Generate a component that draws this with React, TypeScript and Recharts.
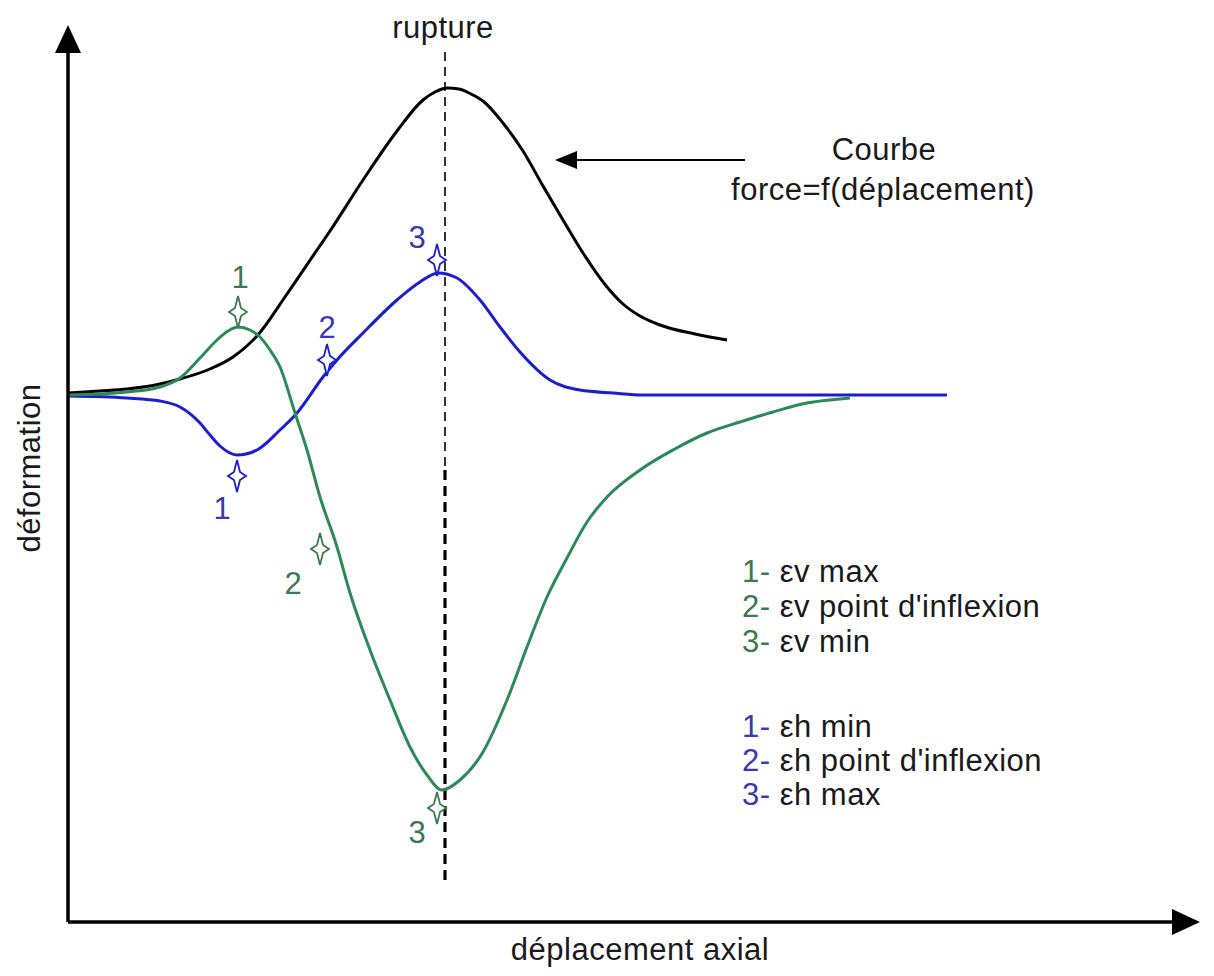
import React from 'react';
import { LineChart, Line, XAxis, YAxis, ReferenceLine, ReferenceDot } from 'recharts';

// x: axial displacement (arbitrary units), y: deformation / force (arbitrary units, 0 = initial level)
const forceCurve = [
  { x: 0, y: 2 }, { x: 32, y: 4 }, { x: 59, y: 6 }, { x: 92, y: 11 }, { x: 112, y: 16 },
  { x: 142, y: 26 }, { x: 165, y: 38 }, { x: 189, y: 59 }, { x: 219, y: 101 }, { x: 249, y: 145 },
  { x: 262, y: 164 }, { x: 295, y: 215 }, { x: 329, y: 264 }, { x: 355, y: 295 }, { x: 367, y: 303 },
  { x: 379, y: 307 }, { x: 391, y: 306 }, { x: 403, y: 301 }, { x: 415, y: 294 }, { x: 435, y: 272 },
  { x: 455, y: 244 }, { x: 475, y: 209 }, { x: 495, y: 175 }, { x: 515, y: 142 }, { x: 539, y: 108 },
  { x: 555, y: 91 }, { x: 572, y: 79 }, { x: 592, y: 70 }, { x: 627, y: 61 }, { x: 659, y: 55 },
];

const evCurve = [
  { x: 0, y: 0 }, { x: 32, y: 1 }, { x: 59, y: 3 }, { x: 92, y: 8 }, { x: 112, y: 17 },
  { x: 132, y: 37 }, { x: 149, y: 55 }, { x: 160, y: 64 }, { x: 170, y: 68 }, { x: 182, y: 65 },
  { x: 192, y: 58 }, { x: 202, y: 45 }, { x: 212, y: 28 }, { x: 227, y: -18 }, { x: 239, y: -55 },
  { x: 252, y: -102 }, { x: 269, y: -152 }, { x: 282, y: -198 }, { x: 302, y: -255 }, { x: 322, y: -305 },
  { x: 342, y: -352 }, { x: 359, y: -380 }, { x: 374, y: -395 }, { x: 392, y: -385 }, { x: 415, y: -357 },
  { x: 439, y: -305 }, { x: 459, y: -252 }, { x: 479, y: -202 }, { x: 499, y: -163 }, { x: 519, y: -127 },
  { x: 539, y: -102 }, { x: 572, y: -75 }, { x: 605, y: -55 }, { x: 639, y: -38 }, { x: 672, y: -27 },
  { x: 705, y: -17 }, { x: 739, y: -8 }, { x: 772, y: -4 }, { x: 782, y: -3 },
];

const ehCurve = [
  { x: 0, y: -1 }, { x: 59, y: -3 }, { x: 92, y: -6 }, { x: 112, y: -12 }, { x: 132, y: -28 },
  { x: 142, y: -40 }, { x: 152, y: -51 }, { x: 169, y: -60 }, { x: 189, y: -55 }, { x: 212, y: -35 },
  { x: 229, y: -18 }, { x: 255, y: 18 }, { x: 269, y: 35 }, { x: 295, y: 62 }, { x: 329, y: 95 },
  { x: 352, y: 113 }, { x: 370, y: 122 }, { x: 389, y: 117 }, { x: 412, y: 95 }, { x: 432, y: 68 },
  { x: 452, y: 43 }, { x: 482, y: 15 }, { x: 512, y: 5 }, { x: 545, y: 2 }, { x: 575, y: 0 },
  { x: 662, y: 0 }, { x: 755, y: 0 }, { x: 879, y: 0 },
];

const evMarkers = [
  { x: 170, y: 83, label: '1', lx: 172, ly: 118 },
  { x: 252, y: -154, label: '2', lx: 225, ly: -188 },
  { x: 369, y: -413, label: '3', lx: 349, ly: -437 },
];
const ehMarkers = [
  { x: 169, y: -81, label: '1', lx: 154, ly: -113 },
  { x: 259, y: 35, label: '2', lx: 259, ly: 68 },
  { x: 369, y: 135, label: '3', lx: 349, ly: 158 },
];

const legendEv = ['1- ', '2- ', '3- '];
const legendEvText = ['εv max', "εv point d'inflexion", 'εv min'];
const legendEh = ['1- ', '2- ', '3- '];
const legendEhText = ['εh min', "εh point d'inflexion", 'εh max'];
const legendEvY = [-187, -222, -257];
const legendEhY = [-342, -376, -410];
const legendX = 674;

const X_DOMAIN = [0, 1132];
const Y_DOMAIN = [-527, 395];
const RUPTURE_X = 377;

const GREEN = '#2b8a57';
const GREEN_TXT = '#3b7a4c';
const BLUE = '#1c1cd0';
const BLUE_TXT = '#3838b8';
const FONT = "'Liberation Sans', Arial, sans-serif";
const FS = 31;

const star = (color: string) => (p: any) => {
  const { cx, cy } = p;
  const d = `M${cx},${cy - 16} L${cx + 3},${cy - 4} L${cx + 9},${cy} L${cx + 3},${cy + 4} L${cx},${cy + 16} L${cx - 3},${cy + 4} L${cx - 9},${cy} L${cx - 3},${cy - 4} Z`;
  return <path d={d} fill="#fff" stroke={color} strokeWidth={1.8} />;
};

const textShape = (text: string, color: string, anchor: string = 'middle', rotate = false) => (p: any) => {
  const { cx, cy } = p;
  return (
    <text
      x={cx}
      y={cy}
      fill={color}
      fontFamily={FONT}
      fontSize={FS}
      letterSpacing={0.5}
      textAnchor={anchor}
      transform={rotate ? `rotate(-90 ${cx} ${cy})` : undefined}
    >
      {text}
    </text>
  );
};

const labelShape = (text: string, color: string) => (p: any) => (
  <text x={p.cx} y={p.cy} fill={color} fontFamily={FONT} fontSize={FS} textAnchor="middle" dominantBaseline="central">
    {text}
  </text>
);

const legendShape = (num: string, rest: string, color: string) => (p: any) => (
  <text x={p.cx} y={p.cy} fontFamily={FONT} fontSize={FS} letterSpacing={0.5} fill="#1a1a1a">
    <tspan fill={color}>{num}</tspan>
    <tspan>{rest}</tspan>
  </text>
);

const triangle = (dir: 'up' | 'right' | 'left') => (p: any) => {
  const { cx, cy } = p;
  let pts = '';
  if (dir === 'up') pts = `${cx},${cy} ${cx - 13},${cy + 28} ${cx + 13},${cy + 28}`;
  if (dir === 'right') pts = `${cx},${cy} ${cx - 28},${cy - 13} ${cx - 28},${cy + 13}`;
  if (dir === 'left') pts = `${cx},${cy} ${cx + 22},${cy - 9} ${cx + 22},${cy + 9}`;
  return <polygon points={pts} fill="#000" />;
};

export default function App() {
  return (
    <div style={{ position: 'absolute', left: 0, top: 0, width: 1214, height: 976, background: '#fff' }}>
      <LineChart width={1214} height={976} margin={{ top: 0, right: 14, bottom: 54, left: 68 }}>
        <XAxis type="number" dataKey="x" domain={X_DOMAIN} hide allowDataOverflow />
        <YAxis type="number" dataKey="y" domain={Y_DOMAIN} hide allowDataOverflow />

        {/* rupture line */}
        <ReferenceLine
          segment={[{ x: RUPTURE_X, y: 343 }, { x: RUPTURE_X, y: -75 }]}
          stroke="#000"
          strokeWidth={1.6}
          strokeDasharray="9 6"
          ifOverflow="visible"
        />
        <ReferenceLine
          segment={[{ x: RUPTURE_X, y: -75 }, { x: RUPTURE_X, y: -490 }]}
          stroke="#000"
          strokeWidth={3.2}
          strokeDasharray="10 6"
          ifOverflow="visible"
        />

        <Line data={forceCurve} dataKey="y" type="monotone" stroke="#000" strokeWidth={3} dot={false} activeDot={false} isAnimationActive={false} />
        <Line data={ehCurve} dataKey="y" type="monotone" stroke={BLUE} strokeWidth={3} dot={false} activeDot={false} isAnimationActive={false} />
        <Line data={evCurve} dataKey="y" type="monotone" stroke={GREEN} strokeWidth={3} dot={false} activeDot={false} isAnimationActive={false} />

        {/* axes */}
        <ReferenceLine segment={[{ x: 0, y: -527 }, { x: 0, y: 343 }]} stroke="#000" strokeWidth={3.5} ifOverflow="visible" />
        <ReferenceLine segment={[{ x: 0, y: -527 }, { x: 1105, y: -527 }]} stroke="#000" strokeWidth={3.5} ifOverflow="visible" />
        <ReferenceDot x={0} y={370} ifOverflow="visible" shape={triangle('up')} />
        <ReferenceDot x={1132} y={-527} ifOverflow="visible" shape={triangle('right')} />

        {/* arrow to force curve */}
        <ReferenceLine segment={[{ x: 677, y: 235 }, { x: 505, y: 235 }]} stroke="#000" strokeWidth={2} ifOverflow="visible" />
        <ReferenceDot x={487} y={235} ifOverflow="visible" shape={triangle('left')} />

        {/* markers */}
        {evMarkers.map((m, i) => (
          <ReferenceDot key={'evs' + i} x={m.x} y={m.y} ifOverflow="visible" shape={star(GREEN_TXT)} />
        ))}
        {ehMarkers.map((m, i) => (
          <ReferenceDot key={'ehs' + i} x={m.x} y={m.y} ifOverflow="visible" shape={star(BLUE)} />
        ))}
        {evMarkers.map((m, i) => (
          <ReferenceDot key={'evl' + i} x={m.lx} y={m.ly} ifOverflow="visible" shape={labelShape(m.label, GREEN_TXT)} />
        ))}
        {ehMarkers.map((m, i) => (
          <ReferenceDot key={'ehl' + i} x={m.lx} y={m.ly} ifOverflow="visible" shape={labelShape(m.label, BLUE_TXT)} />
        ))}

        {/* texts */}
        <ReferenceDot x={375} y={357} ifOverflow="visible" shape={textShape('rupture', '#1a1a1a')} />
        <ReferenceDot x={816} y={235} ifOverflow="visible" shape={textShape('Courbe', '#1a1a1a')} />
        <ReferenceDot x={815} y={195} ifOverflow="visible" shape={textShape('force=f(déplacement)', '#1a1a1a')} />
        <ReferenceDot x={572} y={-565} ifOverflow="visible" shape={textShape('déplacement axial', '#1a1a1a')} />
        <ReferenceDot x={-28} y={-73} ifOverflow="visible" shape={textShape('déformation', '#1a1a1a', 'middle', true)} />

        {legendEv.map((n, i) => (
          <ReferenceDot key={'lev' + i} x={legendX} y={legendEvY[i]} ifOverflow="visible" shape={legendShape(n, legendEvText[i], GREEN_TXT)} />
        ))}
        {legendEh.map((n, i) => (
          <ReferenceDot key={'leh' + i} x={legendX} y={legendEhY[i]} ifOverflow="visible" shape={legendShape(n, legendEhText[i], BLUE_TXT)} />
        ))}
      </LineChart>
    </div>
  );
}
